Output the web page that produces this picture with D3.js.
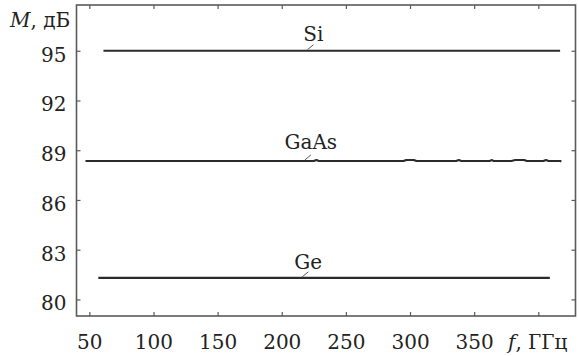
<!DOCTYPE html>
<html>
<head>
<meta charset="utf-8">
<script src="https://cdn.jsdelivr.net/npm/d3@7"></script>
<style>
  html, body { margin: 0; padding: 0; background: #ffffff; }
  svg { display: block; }
  svg text { fill: #222; }
</style>
</head>
<body>
<svg id="chart" width="579" height="356"></svg>
<script>
// ---- data ----
const xTicks = [50, 100, 150, 200, 250, 300, 350, 400];
const xTickLabels = ["50", "100", "150", "200", "250", "300", "350", ""];
const yTicks = [80, 83, 86, 89, 92, 95];
const yTickLabels = ["80", "83", "86", "89", "92", "95"];
const seriesNames = ["Si", "GaAs", "Ge"];
const siF = [61, 417];
const siM = [95, 95];
const gaasF = [47, 225, 227, 229, 295, 297, 303, 305, 336, 338, 340, 362, 364, 365, 379, 382, 389, 391, 404, 406, 408, 417, 418];
const gaasM = [88.35, 88.35, 88.41, 88.35, 88.35, 88.41, 88.41, 88.35, 88.35, 88.41, 88.35, 88.35, 88.41, 88.35, 88.35, 88.41, 88.41, 88.35, 88.35, 88.41, 88.35, 88.35, 88.33];
const geF = [57, 409];
const geM = [81.3, 81.3];
const labelF = [220, 218, 216];   // frequency where each series label leader starts
const labelM = [95, 88.35, 81.3];

(function () {
const FONT = "DejaVu Serif";
// ---- layout ----
const svg = d3.select("#chart");
const mLeft = 76.5, mRight = 575.5, mTop = 5, mBottom = 316;
const x = d3.scaleLinear().domain([40, 429]).range([mLeft, mRight]);
const y = d3.scaleLinear().domain([79, 97.76]).range([mBottom, mTop]);

const frameColor = "#5a5a5a";

// frame
svg.append("rect")
  .attr("x", mLeft).attr("y", mTop)
  .attr("width", mRight - mLeft).attr("height", mBottom - mTop)
  .attr("fill", "none").attr("stroke", frameColor).attr("stroke-width", 1.6);

// axes with inward ticks
const xAxisB = d3.axisBottom(x).tickValues(xTicks).tickSize(-4).tickFormat((d, i) => xTickLabels[i]).tickPadding(0);
const gxb = svg.append("g").attr("transform", `translate(0,${mBottom})`).call(xAxisB);
gxb.attr("font-family", FONT);
gxb.select(".domain").remove();
gxb.selectAll(".tick line").attr("stroke", frameColor).attr("stroke-width", 1.2);
gxb.selectAll(".tick text").attr("y", 33).attr("dy", 0).attr("font-size", 20).attr("fill", "#222");

const xAxisT = d3.axisTop(x).tickValues(xTicks).tickSize(-4).tickFormat("");
const gxt = svg.append("g").attr("transform", `translate(0,${mTop})`).call(xAxisT);
gxt.select(".domain").remove();
gxt.selectAll(".tick line").attr("stroke", frameColor).attr("stroke-width", 1.2);

const yAxisL = d3.axisLeft(y).tickValues(yTicks).tickSize(-4).tickFormat((d, i) => yTickLabels[i]);
const gyl = svg.append("g").attr("transform", `translate(${mLeft},0)`).call(yAxisL);
gyl.attr("font-family", FONT);
gyl.select(".domain").remove();
gyl.selectAll(".tick line").attr("stroke", frameColor).attr("stroke-width", 1.2);
gyl.selectAll(".tick text").attr("x", -10).attr("dy", 10.5).attr("font-size", 20).attr("fill", "#222");

const yAxisR = d3.axisRight(y).tickValues(yTicks).tickSize(-4).tickFormat("");
const gyr = svg.append("g").attr("transform", `translate(${mRight},0)`).call(yAxisR);
gyr.select(".domain").remove();
gyr.selectAll(".tick line").attr("stroke", frameColor).attr("stroke-width", 1.2);

// axis titles
const yt = svg.append("text").attr("x", 10).attr("y", 27).attr("font-size", 20).attr("font-family", FONT);
yt.append("tspan").attr("font-style", "italic").text("M");
yt.append("tspan").text(", дБ");

const xt = svg.append("text").attr("x", 508).attr("y", 349).attr("font-size", 20).attr("font-family", FONT);
xt.append("tspan").attr("font-style", "italic").text("f");
xt.append("tspan").text(", ГГц");

// series lines
const line = d3.line().x(d => x(d[0])).y(d => y(d[1]));
const series = [
  d3.zip(siF, siM),
  d3.zip(gaasF, gaasM),
  d3.zip(geF, geM)
];
svg.append("g").selectAll("path").data(series).join("path")
  .attr("d", line)
  .attr("fill", "none")
  .attr("stroke", "#2b2b2b")
  .attr("stroke-width", 2.2)
  .attr("stroke-linejoin", "round");

// series labels with small leader ticks
const lab = svg.append("g").attr("font-family", FONT);
const baseOff = [9.7, 12, 9];
seriesNames.forEach((name, i) => {
  const px = x(labelF[i]), py = y(labelM[i]);
  lab.append("line")
    .attr("x1", px).attr("y1", py - 1)
    .attr("x2", px + 6).attr("y2", py - 6)
    .attr("stroke", "#555").attr("stroke-width", 1);
  lab.append("text")
    .attr("x", px + 6).attr("y", py - baseOff[i])
    .attr("text-anchor", "middle")
    .attr("font-size", 20)
    .text(name);
});
})();
</script>
</body>
</html>
